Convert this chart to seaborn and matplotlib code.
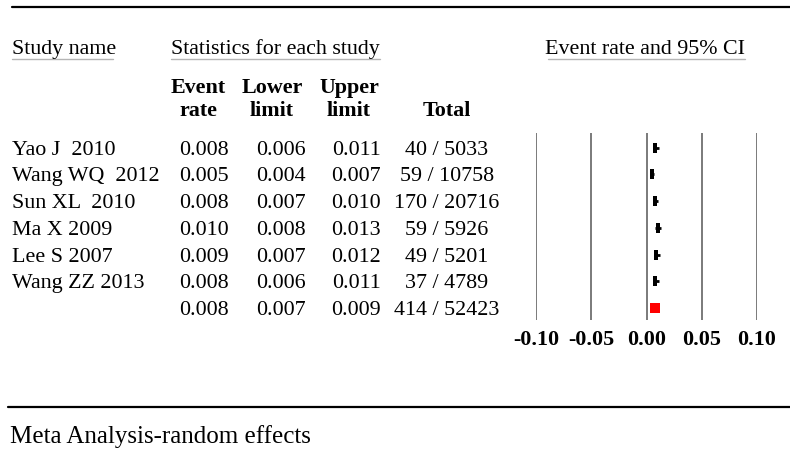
import pandas as pd
import matplotlib.pyplot as plt
import matplotlib.transforms as mtransforms
from matplotlib.lines import Line2D
import seaborn as sns

sns.set_theme(style="white")
plt.rcParams['font.family'] = ['Liberation Serif', 'DejaVu Serif']
plt.rcParams['axes.unicode_minus'] = False
plt.rcParams['text.color'] = 'black'
plt.rcParams['xtick.color'] = 'black'

# Datos del forest plot
studies = ["Yao J  2010", "Wang WQ  2012", "Sun XL  2010", "Ma X 2009",
           "Lee S 2007", "Wang ZZ 2013", ""]
event_rate = [0.008, 0.005, 0.008, 0.010, 0.009, 0.008, 0.008]
lower = [0.006, 0.004, 0.007, 0.008, 0.007, 0.006, 0.007]
upper = [0.011, 0.007, 0.010, 0.013, 0.012, 0.011, 0.009]
totals = ["40 / 5033", "59 / 10758", "170 / 20716", "59 / 5926",
          "49 / 5201", "37 / 4789", "414 / 52423"]
ticks = [-0.10, -0.05, 0.00, 0.05, 0.10]
tick_labels = ["-0.10", "-0.05", "0.00", "0.05", "0.10"]

df = pd.DataFrame({"study": studies, "rate": event_rate, "lower": lower,
                   "upper": upper, "total": totals})
df["row"] = range(len(df))
df_st = df.iloc[:-1]
df_sum = df.iloc[-1:]

W, H = 790, 451
FS = 15.8
fig = plt.figure(figsize=(W / 100, H / 100), dpi=100)

def fx(px):
    return px / W

def fy(py):
    return 1 - py / H

ax = fig.add_axes([fx(536), fy(320), fx(757) - fx(536), fy(133) - fy(320)])

# Intervalos de confianza
ax.hlines(df_st["row"], df_st["lower"], df_st["upper"], color="black", lw=2.0, zorder=3)
rect = [(-0.28, -1), (0.28, -1), (0.28, 1), (-0.28, 1)]
sns.scatterplot(data=df_st, x="rate", y="row", marker=rect, s=60, color="black",
                linewidth=0, ax=ax, zorder=4)
sns.scatterplot(data=df_sum, x="rate", y="row", marker="s", s=52, color="#ff0000",
                linewidth=0, ax=ax, zorder=4)

ax.set_xlim(-0.10, 0.10)
ax.set_ylim(6.45, -0.55)
ax.set_xticks(ticks)
ax.set_xticklabels(tick_labels, fontsize=FS, fontweight="bold", color="black")
ax.set_yticks([])
ax.set_xlabel("")
ax.set_ylabel("")
ax.tick_params(axis="x", length=0, pad=7.5)
for s in ax.spines.values():
    s.set_visible(False)
ax.grid(axis="x", color="#7a7a7a", lw=1.4)
ax.set_facecolor("none")

# Tabla a la izquierda
tr = mtransforms.blended_transform_factory(fig.transFigure, ax.transData)
for _, r in df.iterrows():
    y = r["row"]
    ax.text(fx(12), y, r["study"], transform=tr, ha="left", va="center_baseline", fontsize=FS)
    ax.text(fx(229), y, f"{r['rate']:.3f}", transform=tr, ha="right", va="center_baseline", fontsize=FS)
    ax.text(fx(306), y, f"{r['lower']:.3f}", transform=tr, ha="right", va="center_baseline", fontsize=FS)
    ax.text(fx(381), y, f"{r['upper']:.3f}", transform=tr, ha="right", va="center_baseline", fontsize=FS)
    ax.text(fx(447), y, r["total"], transform=tr, ha="center", va="center_baseline", fontsize=FS)

# Encabezados
fig.text(fx(12), fy(54), "Study name", ha="left", va="baseline", fontsize=FS)
fig.text(fx(171), fy(54), "Statistics for each study", ha="left", va="baseline", fontsize=FS)
fig.text(fx(545), fy(54), "Event rate and 95% CI", ha="left", va="baseline", fontsize=FS)
for x0, x1 in [(12, 113), (171, 380), (548, 745)]:
    fig.add_artist(Line2D([fx(x0), fx(x1)], [fy(59), fy(59)], color="#b5b5b5", lw=1))

for xc, l1, l2 in [(198, "Event", "rate"), (272, "Lower", "limit"), (349, "Upper", "limit")]:
    fig.text(fx(xc), fy(93), l1, ha="center", va="baseline", fontsize=FS, fontweight="bold")
    fig.text(fx(xc), fy(116), l2, ha="center", va="baseline", fontsize=FS, fontweight="bold")
fig.text(fx(447), fy(116), "Total", ha="center", va="baseline", fontsize=FS, fontweight="bold")

# Lineas horizontales
fig.add_artist(Line2D([fx(12), 1], [fy(7), fy(7)], color="black", lw=1.6))
fig.add_artist(Line2D([fx(8), 1], [fy(407), fy(407)], color="black", lw=1.6))
fig.text(fx(10), fy(443), "Meta Analysis-random effects", ha="left", va="baseline", fontsize=18)

fig.savefig("out.png", dpi=100)
